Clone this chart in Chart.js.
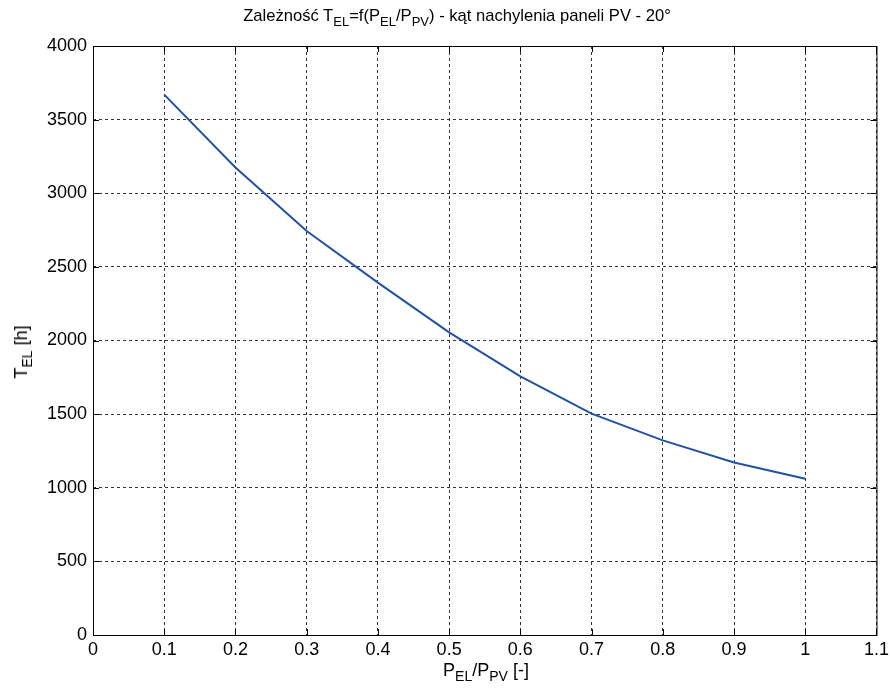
<!DOCTYPE html>
<html>
<head>
<meta charset="utf-8">
<script src="https://cdn.jsdelivr.net/npm/chart.js@4/dist/chart.umd.min.js"></script>
<style>
    body { margin: 0; background: #fff; }
    #wrap { position: relative; width: 893px; height: 689px; font-family: "Liberation Sans", Arial, sans-serif; color: #000; }
    #chart { position: absolute; left: 0; top: 0; }
    .lbl { position: absolute; white-space: nowrap; font-size: 18px; line-height: 1; }
    .lbl sub { font-size: 14px; vertical-align: -5px; line-height: 0; }
    #title { left: 457px; top: 8px; transform: translateX(-50%); font-size: 16.6px; }
    #title sub { font-size: 13px; }
    #xlabel { left: 486px; top: 661px; transform: translateX(-50%); }
    #ylabel { left: 21px; top: 352px; transform: translate(-50%, -50%) rotate(-90deg); }
</style>
</head>
<body>
<div id="wrap">
    <canvas id="chart" width="893" height="689"></canvas>
    <div class="lbl" id="title">Zależność T<sub>EL</sub>=f(P<sub>EL</sub>/P<sub>PV</sub>) - kąt nachylenia paneli PV - 20°</div>
    <div class="lbl" id="xlabel">P<sub>EL</sub>/P<sub>PV</sub> [-]</div>
    <div class="lbl" id="ylabel">T<sub>EL</sub> [h]</div>
</div>
<script>
    // Data
    const ratio = [0.1, 0.2, 0.3, 0.4, 0.5, 0.6, 0.7, 0.8, 0.9, 1.0];
    const hours = [3670, 3175, 2744, 2393, 2055, 1757, 1503, 1322, 1172, 1061];

    // Tick labels
    const xTicks = [0, 0.1, 0.2, 0.3, 0.4, 0.5, 0.6, 0.7, 0.8, 0.9, 1, 1.1];
    const yTicks = [0, 500, 1000, 1500, 2000, 2500, 3000, 3500, 4000];

    const tickFont = { family: '"Liberation Sans", Arial, sans-serif', size: 18 };

    // Frame around the plot area with inward tick marks (MATLAB style)
    const boxPlugin = {
        id: 'box',
        afterDraw(chart) {
            const { ctx, chartArea: a, scales } = chart;
            const len = 6;
            ctx.save();
            ctx.strokeStyle = '#000';
            ctx.lineWidth = 1;
            ctx.setLineDash([]);
            ctx.strokeRect(a.left + 0.5, a.top + 0.5, a.right - a.left, a.bottom - a.top);
            ctx.beginPath();
            xTicks.forEach(v => {
                const px = Math.round(scales.x.getPixelForValue(v)) + 0.5;
                ctx.moveTo(px, a.bottom); ctx.lineTo(px, a.bottom - len);
                ctx.moveTo(px, a.top); ctx.lineTo(px, a.top + len);
            });
            yTicks.forEach(v => {
                const py = Math.round(scales.y.getPixelForValue(v)) + 0.5;
                ctx.moveTo(a.left, py); ctx.lineTo(a.left + len, py);
                ctx.moveTo(a.right, py); ctx.lineTo(a.right - len, py);
            });
            ctx.stroke();
            ctx.restore();
        }
    };

    new Chart(document.getElementById('chart'), {
        type: 'line',
        data: {
            datasets: [{
                data: ratio.map((r, i) => ({ x: r, y: hours[i] })),
                borderColor: '#2352a5',
                borderWidth: 2,
                pointRadius: 0,
                tension: 0,
                fill: false
            }]
        },
        options: {
            responsive: false,
            animation: false,
            layout: { padding: { left: 0, right: 15, top: 46, bottom: 0 } },
            plugins: {
                legend: { display: false },
                tooltip: { enabled: false }
            },
            scales: {
                x: {
                    type: 'linear',
                    min: 0,
                    max: 1.1,
                    afterBuildTicks: scale => { scale.ticks = xTicks.map(v => ({ value: v })); },
                    afterFit: scale => { scale.height = 54; },
                    ticks: {
                        color: '#000',
                        font: tickFont,
                        padding: 4,
                        maxRotation: 0,
                        autoSkip: false,
                        callback: v => String(Number(v.toFixed(1)))
                    },
                    grid: { color: '#333', drawTicks: false, lineWidth: 1 },
                    border: { display: false, dash: [3, 3] }
                },
                y: {
                    type: 'linear',
                    min: 0,
                    max: 4000,
                    afterBuildTicks: scale => { scale.ticks = yTicks.map(v => ({ value: v })); },
                    afterFit: scale => { scale.width = 93; },
                    ticks: {
                        color: '#000',
                        font: tickFont,
                        padding: 6,
                        autoSkip: false,
                        callback: v => String(v)
                    },
                    grid: { color: '#333', drawTicks: false, lineWidth: 1 },
                    border: { display: false, dash: [3, 3] }
                }
            }
        },
        plugins: [boxPlugin]
    });
</script>
</body>
</html>
